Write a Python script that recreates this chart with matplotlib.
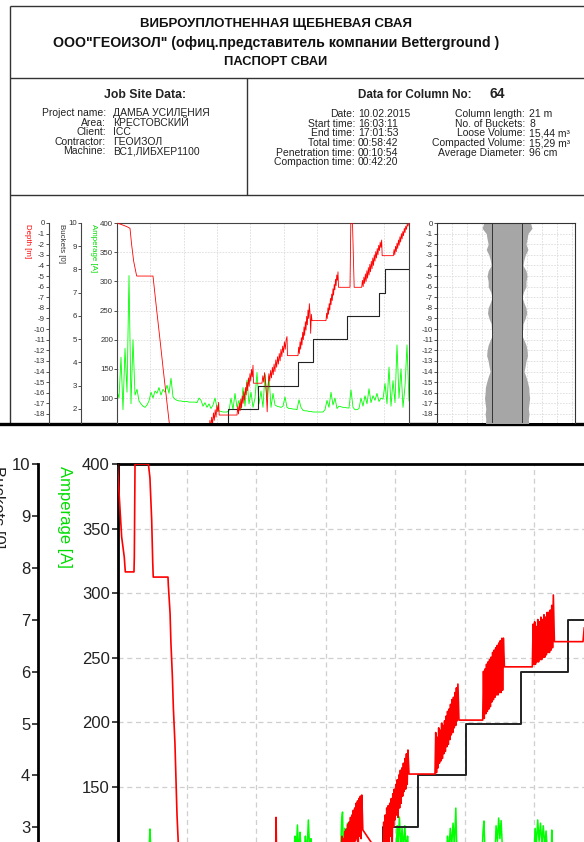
import numpy as np
import matplotlib
matplotlib.use('Agg')
import matplotlib.pyplot as plt

plt.rcParams['font.family'] = ['Liberation Sans', 'DejaVu Sans']
plt.rcParams['axes.unicode_minus'] = False

# ---------------- document texts ----------------
TITLE_LINES = ['ВИБРОУПЛОТНЕННАЯ ЩЕБНЕВАЯ СВАЯ',
               'ООО"ГЕОИЗОЛ" (офиц.представитель компании Betterground )',
               'ПАСПОРТ СВАИ']
JOB_LABELS = ['Project name:', 'Area:', 'Client:', 'Contractor:', 'Machine:']
JOB_VALUES = ['ДАМБА УСИЛЕНИЯ', 'КРЕСТОВСКИЙ', 'ICC', 'ГЕОИЗОЛ', 'ВС1,ЛИБХЕР1100']
COL_NO = '64'
TIME_LABELS = ['Date:', 'Start time:', 'End time:', 'Total time:', 'Penetration time:', 'Compaction time:']
TIME_VALUES = ['10.02.2015', '16:03:11', '17:01:53', '00:58:42', '00:10:54', '00:42:20']
SUM_LABELS = ['Column length:', 'No. of Buckets:', 'Loose Volume:', 'Compacted Volume:', 'Average Diameter:']
SUM_VALUES = ['21 m', '8', '15,44 m³', '15,29 m³', '96 cm']

# ---------------- top chart data (time in s) ----------------
TOP_PEN_T = [0, 72, 120, 156, 175, 200, 236, 432, 476, 516, 556, 596, 628, 660, 1000]
TOP_PEN_D = [0, -0.2, -0.35, -0.5, -2.0, -3.6, -5.0, -5.0, -8.2, -11.0, -13.9, -16.7, -18.9, -21.0, -21.0]
TOP_BURST_T0 = [1000, 1440, 1740, 2172, 2508, 2936, 3316]
TOP_BURST_T1 = [1220, 1632, 2040, 2340, 2652, 3176, 3500]
TOP_BURST_V = [
    [-21.0, -20.2, -20.9, -19.9, -20.6, -19.6, -20.3, -19.2, -19.9, -18.9, -19.6, -18.6, -19.3, -18.3, -19.0, -17.9, -18.6, -17.6, -18.3, -17.2, -17.8, -16.9],
    [-18.1, -17.3, -18.0, -17.0, -17.7, -16.6, -17.4, -16.3, -17.0, -15.9, -16.7, -15.5, -16.2, -15.0, -15.8, -14.6, -15.4, -14.2, -14.9, -13.8, -14.5, -13.4],
    [-15.1, -14.4, -15.0, -14.1, -14.8, -16.0, -17.8, -15.5, -14.2, -14.9, -13.9, -14.6, -13.6, -14.3, -13.3, -14.0, -12.9, -13.6, -12.6, -13.3, -12.3, -13.0, -11.9, -12.6, -11.6, -12.2, -11.2, -11.9, -11.0, -10.7],
    [-12.5, -11.7, -12.3, -11.2, -11.9, -10.8, -11.5, -10.3, -11.0, -9.8, -10.6, -9.3, -10.1, -8.8, -9.6, -8.2, -9.0, -7.6, -8.5, -10.4, -8.6, -9.2],
    [-9.2, -8.5, -9.0, -8.0, -8.6, -7.6, -8.2, -7.1, -7.7, -6.7, -7.3, -6.2, -6.8, -5.8, -6.3, -5.3, -5.9, -4.9, -5.4, -4.6],
    [-6.06, -5.4, -6.0, -5.1, -5.7, -4.8, -5.5, -4.5, -5.2, -4.2, -4.9, -3.9, -4.6, -3.6, -4.3, -3.3, -4.0, -3.0, -3.6, -2.7, -3.3, -2.4, -3.0, -2.1, -2.6, -1.8, -2.3, -1.6],
    [-3.08, -2.5, -3.0, -2.2, -2.7, -1.9, -2.4, -1.6, -2.1, -1.3, -1.8, -1.0, -1.5, -0.8, -1.2, -0.5, -0.9, -0.3, -0.6, -0.1, -0.3, 0.0],
]
TOP_PLATEAU_D = [-18.1, -15.1, -12.5, -9.2, -6.06, -3.08, 0.0]
TOP_EXTRA_T = [2796, 2806, 2826, 2846]
TOP_EXTRA_D = [-6.06, 0.0, 0.0, -6.06]

TOP_AMP_STEP = 24
TOP_AMP = [112, 100, 170, 80, 185, 110, 310, 90, 200, 105,
           115, 95, 90, 86, 84, 88, 95, 110, 100, 112,
           108, 118, 105, 115, 110, 122, 108, 134, 102, 98,
           96, 95, 95, 94, 94, 94, 93, 93, 93, 93,
           92, 100, 96, 86, 92, 84, 90, 82, 88, 100,
           84, 78, 77, 76, 76, 76, 78, 100, 80, 108,
           84, 96, 80, 118, 86, 131, 90, 110, 84, 100,
           144, 90, 112, 84, 141, 96, 138, 84, 108, 88,
           86, 85, 84, 86, 102, 84, 82, 82, 81, 81,
           80, 97, 84, 79, 78, 78, 77, 77, 76, 76,
           76, 76, 76, 76, 80, 96, 84, 110, 88, 100,
           82, 86, 85, 84, 84, 83, 83, 114, 84, 80,
           80, 82, 100, 86, 104, 90, 116, 92, 104, 96,
           108, 94, 100, 98, 125, 90, 153, 86, 130, 92,
           191, 100, 150, 84, 120, 191, 95]

TOP_BUCKET_T = [0, 700, 1332, 1692, 2172, 2352, 2760, 3144, 3216, 3504]
TOP_BUCKET_N = [0, 1, 2, 3, 4, 5, 6, 7, 8, 8]

COL_DEPTH = [0, -0.5, -1, -1.5, -2, -2.5, -3, -3.5, -4, -4.5, -5, -5.5, -6, -6.5, -7, -7.5,
             -8, -8.5, -9, -9.5, -10, -10.5, -11, -11.5, -12, -12.5, -13, -13.5, -14, -14.5,
             -15, -15.5, -16, -16.5, -17, -17.5, -18, -18.5, -19]
COL_DIAM = [1.09, 1.16, 0.97, 0.93, 0.88, 0.97, 0.85, 0.78, 0.74, 0.88, 0.93, 0.88, 0.88, 0.76,
            0.70, 0.78, 0.88, 0.91, 0.84, 0.74, 0.73, 0.67, 0.78, 0.88, 0.93, 0.95, 0.88, 0.84,
            0.79, 0.88, 0.95, 1.01, 1.02, 1.05, 1.02, 0.99, 1.02, 0.99, 1.01]
COL_CORE = 0.34

# ---------------- bottom (enlarged) chart data ----------------
BOT_PEN_T = [0, 8.6, 24, 39, 45, 95, 97, 101, 178, 187, 197, 203, 206, 291, 293, 303, 308,
             316, 322, 331, 337, 343, 350, 380, 905, 914, 923, 1250]
BOT_PEN_D = [0, -1.19, -3.10, -3.95, -4.58, -4.58, -3.95, 0, 0, -0.59, -2.38, -4.16, -4.80,
             -4.80, -5.14, -6.34, -7.61, -8.96, -10.36, -11.84, -13.33, -14.90, -16.04, -21,
             -21, -15.0, -21, -18.0]
BOT_BURST_T0 = [1290, 1530, 1830, 2105, 2391]
BOT_BURST_T1 = [1408, 1674, 1962, 2224, 2512]
BOT_BURST_V = [
    [-17.5, -15.8, -17.2, -15.9, -16.9, -15.6, -17.0, -15.5, -16.6, -15.3, -16.8, -15.2, -16.4, -15.0, -16.5,
     -14.9, -16.2, -14.7, -16.3, -14.6, -16.0, -14.4, -15.9, -14.3, -16.1, -14.2, -15.8, -14.1, -15.9, -14.05],
    [-16.8, -15.2, -16.5, -14.9, -17.0, -14.6, -16.2, -14.5, -16.6, -14.4, -15.8, -14.2, -16.9, -14.0, -15.4,
     -13.8, -15.1, -13.6, -14.9, -13.4, -15.0, -13.2, -14.6, -13.0, -14.4, -12.9, -14.1, -12.7, -13.9, -12.5,
     -13.8, -12.3, -13.6, -12.14],
    [-13.16, -11.4, -13.1, -11.6, -12.9, -11.2, -12.7, -11.3, -12.6, -11.0, -12.5, -11.1, -12.3, -10.9, -12.2,
     -10.7, -12.0, -10.5, -11.9, -10.4, -11.7, -10.2, -11.5, -10.0, -11.4, -9.9, -11.2, -9.7, -11.1, -9.5,
     -10.9, -9.34],
    [-10.87, -8.8, -10.8, -8.7, -10.6, -8.5, -10.5, -8.4, -10.4, -8.3, -10.3, -8.2, -10.1, -8.0, -10.0,
     -7.9, -9.9, -7.8, -9.8, -7.7, -9.8, -7.6, -9.7, -7.5, -9.7, -7.4, -9.6, -7.39],
    [-8.61, -6.8, -8.5, -6.7, -8.5, -6.9, -8.4, -6.6, -8.4, -6.7, -8.3, -6.5, -8.3, -6.6, -8.2,
     -6.4, -8.2, -6.5, -8.1, -6.3, -8.0, -6.3, -8.0, -6.2, -7.9, -6.0, -7.8, -5.56],
]
BOT_PLATEAU_D = [-15.53, -13.16, -10.87, -8.61, -7.54]
BOT_EXTRA_T = [2683, 2690]
BOT_EXTRA_D = [-7.54, -6.96]

BOT_AMP_T = [0, 180, 187, 194, 1015, 1023, 1030, 1037, 1044, 1052, 1060, 1075, 1083, 1092, 1100, 1108,
             1115, 1125, 1285, 1292, 1297, 1302, 1310, 1318, 1326, 1334, 1342, 1350, 1525, 1532, 1540,
             1548, 1556, 1605, 1612, 1618, 1625, 1632, 1640, 1648, 1656, 1664, 1672, 1680, 1895, 1902,
             1910, 1918, 1926, 1934, 1942, 1950, 1956, 1962, 2100, 2107, 2112, 2118, 2125, 2175, 2182,
             2190, 2197, 2204, 2211, 2218, 2225, 2400, 2407, 2414, 2422, 2430, 2438, 2446, 2454, 2462,
             2470, 2478, 2486, 2500, 2503, 2507, 2690]
BOT_AMP = [95, 95, 117.5, 95, 95, 112, 100, 120.6, 98, 115, 95, 100, 112, 98, 124.5, 100,
           110, 95, 95, 125, 130.6, 98, 118, 100, 122, 100, 115, 95, 95, 114, 100,
           118, 95, 95, 120, 105, 126.8, 104, 118, 102, 120, 100, 112, 95, 95, 112,
           100, 118, 104, 122, 105, 133.7, 100, 95, 95, 116, 123.7, 100, 95, 95, 120,
           108, 126, 110, 124, 104, 95, 95, 118, 105, 124.5, 108, 122, 106, 120, 104,
           116, 100, 95, 95, 116.7, 95, 95]

BOT_BUCKET_T = [0, 400, 1000, 1530, 1732, 2009, 2326, 2597, 2700]
BOT_BUCKET_N = [0, 1, 2, 3, 4, 5, 6, 7, 7]


def build_series(pen_t, pen_d, t0s, t1s, bursts, plateaus, extra_t, extra_d):
    t = list(pen_t)
    d = list(pen_d)
    for t0, t1, vals, lev in zip(t0s, t1s, bursts, plateaus):
        t += list(np.linspace(t0, t1, len(vals)))
        d += list(vals)
        t.append(t1 + 6)
        d.append(lev)
    t += list(extra_t)
    d += list(extra_d)
    order = np.argsort(np.array(t), kind='stable')
    return np.array(t)[order], np.array(d)[order]


W, H = 584, 842
fig = plt.figure(figsize=(W / 100, H / 100), dpi=100)
fig.patch.set_facecolor('white')


def rect(x0, y0, x1, y1):
    return [x0 / W, 1 - y1 / H, (x1 - x0) / W, (y1 - y0) / H]


bg = fig.add_axes([0, 0, 1, 1])
bg.set_xlim(0, W)
bg.set_ylim(H, 0)
bg.axis('off')

TXT = '#222222'
lk = dict(color='#333333', lw=1.0, solid_capstyle='butt')
bg.plot([10, W], [6, 6], **lk)
bg.plot([10, 10], [6, 423], **lk)
bg.plot([10, W], [78, 78], **lk)
bg.plot([247, 247], [78, 195], **lk)
bg.plot([10, W], [195, 195], **lk)

for y, s, fs in zip([24, 43, 62], TITLE_LINES, [9.5, 10.2, 9.3]):
    bg.text(276, y, s, ha='center', va='center', fontsize=fs, fontweight='bold', color='#111111')

ROW_FS = 7.5
bg.text(145, 95, 'Job Site Data:', ha='center', va='center', fontsize=8.8, fontweight='bold', color=TXT)
for y, lab, val in zip([113, 123, 132, 142, 151], JOB_LABELS, JOB_VALUES):
    bg.text(106, y, lab, ha='right', va='center', fontsize=ROW_FS, color=TXT)
    bg.text(113, y, val, ha='left', va='center', fontsize=ROW_FS, color=TXT)

bg.text(472, 95, 'Data for Column No:', ha='right', va='center', fontsize=8.4, fontweight='bold', color=TXT)
bg.text(489, 94, COL_NO, ha='left', va='center', fontsize=10, fontweight='bold', color=TXT)
for y, lab, val in zip([114, 124, 133, 143, 153, 162], TIME_LABELS, TIME_VALUES):
    bg.text(355, y, lab, ha='right', va='center', fontsize=ROW_FS, color=TXT)
    bg.text(358, y, val, ha='left', va='center', fontsize=ROW_FS, color=TXT)
for y, lab, val in zip([114, 124, 133, 143, 153], SUM_LABELS, SUM_VALUES):
    bg.text(525, y, lab, ha='right', va='center', fontsize=ROW_FS, color=TXT)
    bg.text(529, y, val, ha='left', va='center', fontsize=ROW_FS, color=TXT)

RED = '#ff0000'
GREEN = '#00ff00'
BLK = '#222222'

# ---------------- top chart ----------------
TL, TR, TT, TB = 117, 409, 223, 423
ax_amp = fig.add_axes(rect(TL, TT, TR, TB))
ax_amp.set_xlim(0, 3504)
ax_amp.set_ylim(400 - (TB - TT) * 50 / 29.17, 400)
ax_buck = ax_amp.twinx()
ax_buck.set_ylim(10 - (TB - TT) / 23.25, 10)
ax_depth = ax_amp.twinx()
ax_depth.set_ylim(-(TB - TT) / 10.61, 0)

tt = np.arange(len(TOP_AMP)) * TOP_AMP_STEP
ax_amp.plot(tt, TOP_AMP, color=GREEN, lw=0.6, zorder=2)
dt, dd = build_series(TOP_PEN_T, TOP_PEN_D, TOP_BURST_T0, TOP_BURST_T1, TOP_BURST_V,
                      TOP_PLATEAU_D, TOP_EXTRA_T, TOP_EXTRA_D)
ax_depth.plot(dt, dd, color=RED, lw=0.6)
ax_buck.plot(TOP_BUCKET_T, TOP_BUCKET_N, color=BLK, lw=0.8, drawstyle='steps-post')

ax_amp.set_xticks(np.arange(400, 3504, 400))
ax_amp.set_yticks(np.arange(100, 401, 50))
ax_amp.grid(True, color='#dcdcdc', lw=0.6, ls=(0, (2, 1.5)))
ax_amp.tick_params(axis='x', length=0, labelbottom=False)
ax_buck.set_yticks(np.arange(2, 11, 1))
ax_depth.set_yticks(np.arange(0, -19, -1))

for ax, pos in ((ax_amp, None), (ax_buck, (81 - TL) / (TR - TL)), (ax_depth, (49 - TL) / (TR - TL))):
    ax.spines['bottom'].set_visible(False)
    ax.tick_params(axis='y', which='both', direction='out', length=2, width=0.6,
                   labelsize=5.7, pad=0.8, colors='#333333', left=True, labelleft=True,
                   right=False, labelright=False)
    ax.tick_params(axis='x', length=0, labelbottom=False)
    for s in ('left', 'top', 'right'):
        ax.spines[s].set_color('#444444')
        ax.spines[s].set_linewidth(0.8)
    if pos is not None:
        ax.spines['left'].set_visible(True)
        ax.spines['left'].set_position(('axes', pos))
        ax.spines['right'].set_visible(False)
        ax.spines['top'].set_visible(False)
        ax.yaxis.set_ticks_position('left')

bg.text(27, 224, 'Depth [m]', rotation=-90, ha='center', va='top', fontsize=5.7, color=RED)
bg.text(62, 224, 'Buckets [0]', rotation=-90, ha='center', va='top', fontsize=5.7, color='#333333')
bg.text(93, 224, 'Amperage [A]', rotation=-90, ha='center', va='top', fontsize=5.7, color='#00dd00')

# ---------------- column profile ----------------
ax_col = fig.add_axes(rect(437, TT, 575, TB))
ax_col.set_ylim(-(TB - TT) / 10.61, 0)
ax_col.set_xlim(-1.63, 1.58)
diam = np.array(COL_DIAM)
ax_col.fill_betweenx(COL_DEPTH, -diam / 2, diam / 2, color='#a6a6a6', lw=0, zorder=2)
ax_col.axvline(-COL_CORE, color='#333333', lw=0.7, zorder=3)
ax_col.axvline(COL_CORE, color='#333333', lw=0.7, zorder=3)
ax_col.set_xticks(np.arange(-1.63, 1.58, 0.349))
ax_col.set_yticks(np.arange(0, -19, -1))
ax_col.grid(True, color='#dcdcdc', lw=0.6, ls=(0, (2, 1.5)), zorder=0)
ax_col.set_axisbelow(True)
ax_col.tick_params(axis='x', length=0, labelbottom=False)
ax_col.tick_params(axis='y', direction='out', length=2, width=0.6, labelsize=5.7, pad=0.8, colors='#333333')
ax_col.spines['bottom'].set_visible(False)
for s in ('left', 'top', 'right'):
    ax_col.spines[s].set_color('#333333')
    ax_col.spines[s].set_linewidth(0.8)

bg.plot([0, W], [424, 424], color='black', lw=2.4, zorder=10)

# ---------------- bottom enlarged chart ----------------
BL, BR, BT, BB = 117.5, 584, 464, 842
bx_amp = fig.add_axes(rect(BL, BT, BR, BB))
bx_amp.set_xlim(0, (BR - BL) * 400 / 69.4)
bx_amp.set_ylim(400 - (BB - BT) * 50 / 64.6, 400)
bx_buck = bx_amp.twinx()
bx_buck.set_ylim(10 - (BB - BT) / 51.9, 10)
bx_depth = bx_amp.twinx()
bx_depth.set_ylim(-(BB - BT) / 23.56, 0)

bx_amp.plot(BOT_AMP_T, BOT_AMP, color=GREEN, lw=1.1)
bt, bd = build_series(BOT_PEN_T, BOT_PEN_D, BOT_BURST_T0, BOT_BURST_T1, BOT_BURST_V,
                      BOT_PLATEAU_D, BOT_EXTRA_T, BOT_EXTRA_D)
bx_depth.plot(bt, bd, color=RED, lw=1.2)
bx_buck.plot(BOT_BUCKET_T, BOT_BUCKET_N, color=BLK, lw=1.4, drawstyle='steps-post')

bx_amp.set_xticks(np.arange(400, 2689, 400))
bx_amp.set_yticks(np.arange(150, 401, 50))
bx_amp.grid(True, color='#cfcfcf', lw=0.9, ls=(0, (4, 3)))
bx_buck.set_yticks(np.arange(3, 11, 1))

for ax in (bx_amp, bx_buck, bx_depth):
    for s in ('bottom', 'right'):
        ax.spines[s].set_visible(False)
    ax.tick_params(axis='x', length=0, labelbottom=False)
bx_amp.spines['left'].set_linewidth(2.0)
bx_amp.spines['top'].set_linewidth(2.0)
bx_amp.spines['left'].set_color('black')
bx_amp.spines['top'].set_color('black')
bx_amp.tick_params(axis='y', direction='out', length=4, width=1.2, labelsize=12, pad=1.5, colors='#222222')

bx_buck.spines['top'].set_visible(False)
bx_buck.spines['left'].set_visible(True)
bx_buck.spines['left'].set_position(('axes', (38 - BL) / (BR - BL)))
bx_buck.spines['left'].set_linewidth(2.0)
bx_buck.spines['left'].set_color('black')
bx_buck.yaxis.set_ticks_position('left')
bx_buck.tick_params(axis='y', direction='out', length=4, width=1.2, labelsize=12, pad=1.5,
                    colors='#222222', left=True, labelleft=True, right=False, labelright=False)

bx_depth.spines['top'].set_visible(False)
bx_depth.spines['left'].set_visible(False)
bx_depth.tick_params(axis='y', left=False, right=False, labelleft=False, labelright=False)

bg.text(64, 466, 'Amperage [A]', rotation=-90, ha='center', va='top', fontsize=12, color='#00dd00')
bg.text(-3, 466, 'Buckets [0]', rotation=-90, ha='center', va='top', fontsize=12, color='#222222')

fig.savefig('out.png', dpi=100, facecolor='white')
